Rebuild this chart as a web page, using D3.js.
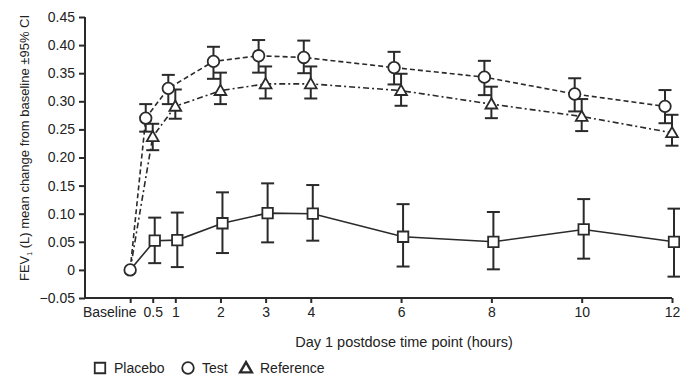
<!DOCTYPE html>
<html>
<head>
<meta charset="utf-8">
<script src="https://cdn.jsdelivr.net/npm/d3@7"></script>
<style>
  body { margin: 0; background: #fff; }
  svg { font-family: "Liberation Sans", Arial, sans-serif; }
</style>
</head>
<body>
<div id="chart"></div>
<script>
// time points (hours), 0 = baseline
const hours = [0, 0.5, 1, 2, 3, 4, 6, 8, 10, 12]
const xTickLabels = ['Baseline', '0.5', '1', '2', '3', '4', '6', '8', '10', '12']
const yTicks = [-0.05, 0, 0.05, 0.1, 0.15, 0.2, 0.25, 0.3, 0.35, 0.4, 0.45]

// mean change and 95% CI
const placeboMean = [0, 0.052, 0.053, 0.083, 0.101, 0.100, 0.059, 0.050, 0.072, 0.050]
const placeboLo   = [0, 0.012, 0.005, 0.030, 0.049, 0.052, 0.006, 0.001, 0.020, -0.012]
const placeboHi   = [0, 0.093, 0.102, 0.138, 0.154, 0.151, 0.117, 0.103, 0.126, 0.109]

const testMean = [0, 0.270, 0.323, 0.371, 0.381, 0.378, 0.360, 0.343, 0.313, 0.291]
const testLo   = [0, 0.246, 0.295, 0.340, 0.351, 0.350, 0.330, 0.311, 0.282, 0.261]
const testHi   = [0, 0.295, 0.347, 0.397, 0.409, 0.408, 0.388, 0.372, 0.341, 0.320]

const refMean = [0, 0.237, 0.291, 0.319, 0.331, 0.331, 0.319, 0.295, 0.273, 0.244]
const refLo   = [0, 0.213, 0.269, 0.295, 0.305, 0.305, 0.292, 0.270, 0.247, 0.221]
const refHi   = [0, 0.260, 0.321, 0.351, 0.362, 0.362, 0.349, 0.326, 0.304, 0.276]

const seriesNames = ['Placebo', 'Test', 'Reference']

const ink = '#2a2a2a'
const width = 680
const height = 380

const svg = d3.select('#chart').append('svg')
  .attr('width', width)
  .attr('height', height)

const x = d3.scaleLinear().domain([-1, 12]).range([85, 672])
const y = d3.scaleLinear().domain([-0.05, 0.45]).range([298, 17])

// build series
const makeSeries = (name, mean, lo, hi, shape, dash, dx) => ({
  name, shape, dash, dx,
  points: hours.map((h, i) => ({ h, v: mean[i], lo: lo[i], hi: hi[i] }))
})
const series = [
  makeSeries('Placebo', placeboMean, placeboLo, placeboHi, 'square', null, 2),
  makeSeries('Reference', refMean, refLo, refHi, 'triangle', '6,3,2,3', 0),
  makeSeries('Test', testMean, testLo, testHi, 'circle', '5,3', -7)
]

const px = (s, d) => x(d.h) + (d.h === 0 ? 0 : s.dx)

// axes
const xAxis = d3.axisBottom(x)
  .tickValues(hours)
  .tickFormat((d, i) => xTickLabels[i])
  .tickSize(5)
  .tickPadding(4)
const gx = svg.append('g')
  .attr('transform', `translate(0, ${y(-0.05)})`)
  .call(xAxis)
gx.select('.domain').attr('d', `M${x(-1)},0H${x(12)}`)
gx.selectAll('text').filter((d, i) => i === 0)
  .attr('text-anchor', 'end')
  .attr('dx', 6)

const yAxis = d3.axisLeft(y)
  .tickValues(yTicks)
  .tickFormat(d => d === 0 ? '0' : d3.format('.2f')(d))
  .tickSize(6)
  .tickPadding(4)
const gy = svg.append('g')
  .attr('transform', `translate(${x(-1)}, 0)`)
  .call(yAxis)
gy.select('.domain').attr('d', `M0,${y(0.45)}V${y(-0.05)}`)

svg.selectAll('.domain').attr('stroke', ink).attr('stroke-width', 2)
svg.selectAll('.tick line').attr('stroke', ink).attr('stroke-width', 2)
svg.selectAll('.tick text')
  .attr('fill', '#222')
  .style('font-size', '14px')
  .style('font-family', '"Liberation Sans", Arial, sans-serif')

// axis titles
svg.append('text')
  .attr('x', 404)
  .attr('y', 347)
  .attr('text-anchor', 'middle')
  .style('font-size', '14.5px')
  .attr('fill', '#222')
  .text('Day 1 postdose time point (hours)')

const yTitle = svg.append('text')
  .attr('transform', 'translate(29, 148) rotate(-90)')
  .attr('text-anchor', 'middle')
  .style('font-size', '13px')
  .attr('fill', '#222')
yTitle.append('tspan').text('FEV')
yTitle.append('tspan').text('1').style('font-size', '7px').attr('dy', 3)
yTitle.append('tspan').text(' (L) mean change from baseline ±95% CI').attr('dy', -3)

// lines
const line = s => d3.line().x(d => px(s, d)).y(d => y(d.v))(s.points)
svg.append('g').selectAll('path')
  .data(series)
  .join('path')
  .attr('d', d => line(d))
  .attr('fill', 'none')
  .attr('stroke', ink)
  .attr('stroke-width', 1.6)
  .attr('stroke-dasharray', d => d.dash)

// error bars
const capW = 6.5
series.forEach(s => {
  const g = svg.append('g')
  const pts = s.points.filter(d => d.h > 0)
  g.selectAll('line.bar').data(pts).join('line')
    .attr('x1', d => px(s, d)).attr('x2', d => px(s, d))
    .attr('y1', d => y(d.lo)).attr('y2', d => y(d.hi))
    .attr('stroke', ink).attr('stroke-width', 2)
  g.selectAll('line.capHi').data(pts).join('line')
    .attr('x1', d => px(s, d) - capW).attr('x2', d => px(s, d) + capW)
    .attr('y1', d => y(d.hi)).attr('y2', d => y(d.hi))
    .attr('stroke', ink).attr('stroke-width', 2)
  g.selectAll('line.capLo').data(pts).join('line')
    .attr('x1', d => px(s, d) - capW).attr('x2', d => px(s, d) + capW)
    .attr('y1', d => y(d.lo)).attr('y2', d => y(d.lo))
    .attr('stroke', ink).attr('stroke-width', 2)
})

// markers
const symbolFor = shape => {
  if (shape === 'square') return d3.symbol().type(d3.symbolSquare).size(110)()
  if (shape === 'triangle') return d3.symbol().type(d3.symbolTriangle).size(60)()
  return d3.symbol().type(d3.symbolCircle).size(105)()
}
series.forEach(s => {
  const pts = s.points.filter(d => d.h > 0 || s.shape === 'circle')
  svg.append('g').selectAll('path')
    .data(pts)
    .join('path')
    .attr('d', symbolFor(s.shape))
    .attr('transform', d => `translate(${px(s, d)}, ${y(d.v) + (s.shape === 'triangle' ? 1 : 0)})`)
    .attr('fill', '#fff')
    .attr('stroke', ink)
    .attr('stroke-width', 1.8)
})

// legend
const legendX = [100, 188, 246]
const legendShapes = ['square', 'circle', 'triangle']
const legend = svg.append('g').attr('transform', 'translate(0, 368)')
seriesNames.forEach((name, i) => {
  legend.append('path')
    .attr('d', symbolFor(legendShapes[i]))
    .attr('transform', `translate(${legendX[i]}, ${legendShapes[i] === 'triangle' ? 1 : 0})`)
    .attr('fill', '#fff')
    .attr('stroke', ink)
    .attr('stroke-width', legendShapes[i] === 'triangle' ? 2.4 : 1.8)
  legend.append('text')
    .attr('x', legendX[i] + 14)
    .attr('y', 5)
    .style('font-size', '14px')
    .attr('fill', '#222')
    .text(name)
})
</script>
</body>
</html>
